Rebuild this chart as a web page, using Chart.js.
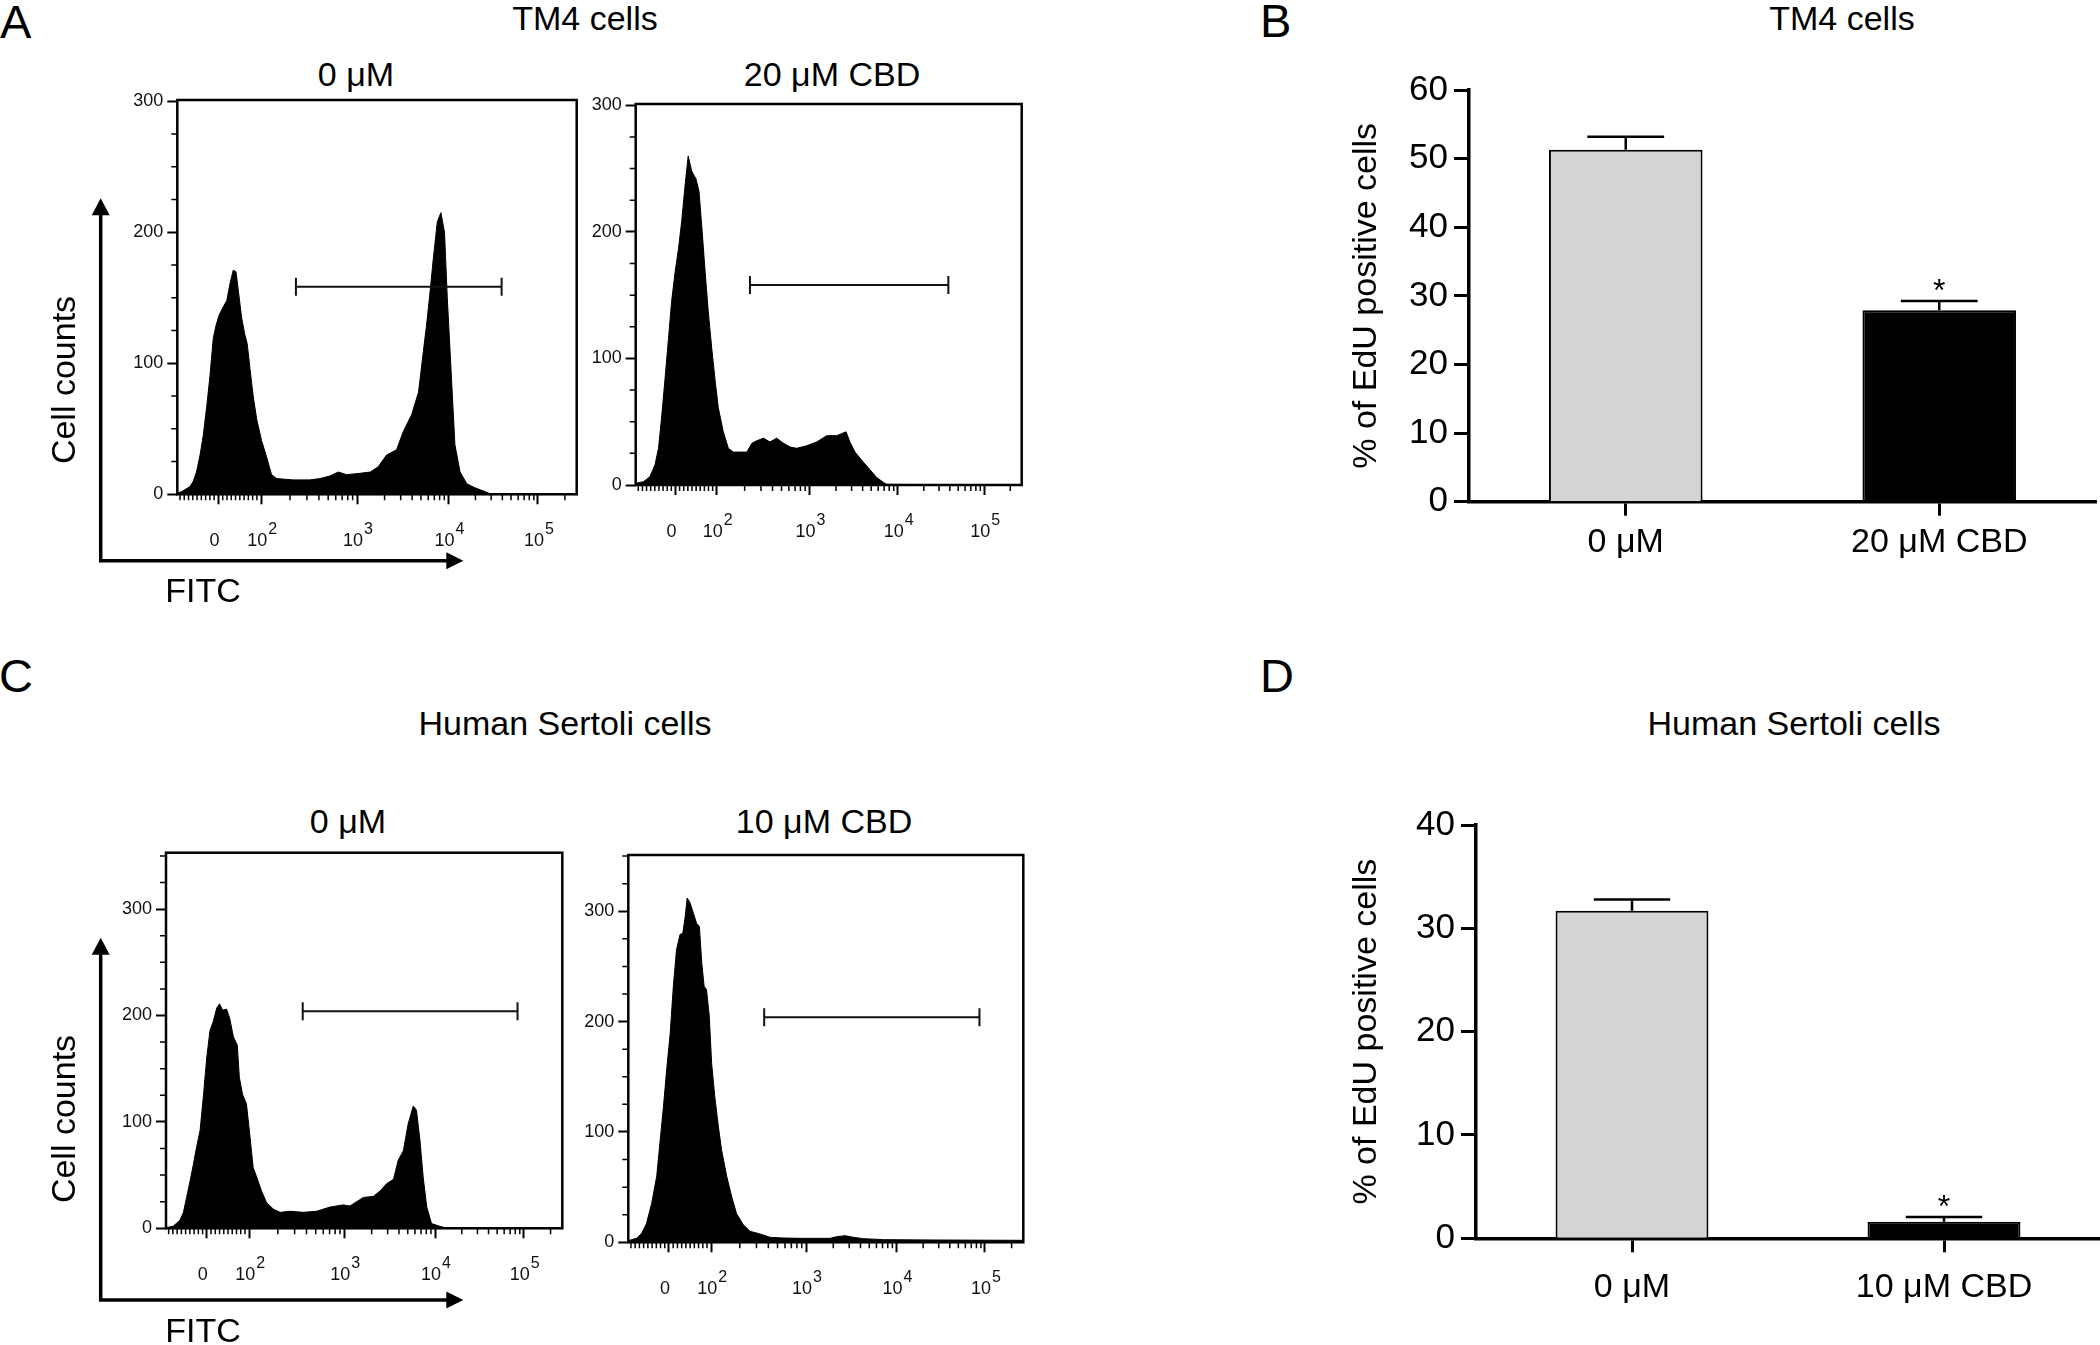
<!DOCTYPE html>
<html lang="en">
<head>
<meta charset="utf-8">
<title>EdU incorporation in TM4 and human Sertoli cells</title>
<script src="https://cdn.jsdelivr.net/npm/chart.js@4.4.1/dist/chart.umd.min.js"></script>
<style>
  html, body { margin: 0; padding: 0; background: #fff; }
  #fig { position: relative; width: 2100px; height: 1345px; overflow: hidden; background: #fff;
         font-family: "Liberation Sans", Arial, Helvetica, sans-serif; color: #000; }
  #fig canvas { position: absolute; }
  .t { position: absolute; transform: translate(-50%, -50%); line-height: 1; font-size: 34px; white-space: nowrap; }
  .p { position: absolute; transform: translateY(-50%); line-height: 1; font-size: 47px; }
</style>
</head>
<body>
<div id="fig">
  <div class="p" style="left:0px;top:21px">A</div>
  <div class="p" style="left:1260px;top:20px">B</div>
  <div class="p" style="left:-1px;top:675px">C</div>
  <div class="p" style="left:1260px;top:675px">D</div>

  <div class="t" style="left:585px;top:18px">TM4 cells</div>
  <div class="t" style="left:1842px;top:18px">TM4 cells</div>
  <div class="t" style="left:565px;top:723px">Human Sertoli cells</div>
  <div class="t" style="left:1794px;top:723px">Human Sertoli cells</div>

  <div class="t" style="left:356px;top:74px">0 μM</div>
  <div class="t" style="left:832px;top:74px">20 μM CBD</div>
  <div class="t" style="left:348px;top:821px">0 μM</div>
  <div class="t" style="left:824px;top:821px">10 μM CBD</div>

  <canvas id="histTm4Ctrl"></canvas>
  <canvas id="histTm4Cbd"></canvas>
  <canvas id="histHscCtrl"></canvas>
  <canvas id="histHscCbd"></canvas>
  <canvas id="barTm4"></canvas>
  <canvas id="barHsc"></canvas>
</div>

<script>
const FONT = '"Liberation Sans", Arial, Helvetica, sans-serif';
Chart.defaults.font.family = FONT;
Chart.defaults.color = '#000';

// FITC axis, display channel 0-1000 (biexponential display)
const fitcTickPos = [103, 210, 450, 679, 903];
const fitcTickBase = ['0', '10', '10', '10', '10'];
const fitcTickExp = ['', '2', '3', '4', '5'];
const countTicks = [0, 100, 200, 300];

// A - TM4 cells, 0 uM
const tm4CtrlChannel = [0, 11, 32, 40, 48, 57, 65, 74, 82, 90, 97, 105, 115, 124, 132, 140, 147, 153, 161, 169,
  175, 182, 190, 199, 211, 224, 236, 249, 290, 332, 357, 382, 403, 424, 457, 483, 503, 524, 549, 566,
  587, 604, 616, 624, 633, 641, 651, 660, 669, 676, 683, 690, 695, 708, 725, 745, 771, 783, 1000];
const tm4CtrlCount = [1, 2, 6, 10, 17, 30, 45, 68, 91, 119, 129, 137, 143, 148, 161, 171, 170, 155, 135, 122,
  115, 96, 75, 57, 41, 28, 15, 12, 11, 11, 12, 14, 17, 15, 16, 17, 21, 30, 34, 48,
  61, 78, 109, 129, 155, 180, 208, 215, 200, 150, 109, 68, 38, 17, 8, 5, 2, 0.5, 0];
const tm4CtrlGate = [297, 812];
const tm4CtrlGateY = 158.5;

// A - TM4 cells, 20 uM CBD
const tm4CbdChannel = [0, 20, 37, 50, 59, 67, 76, 85, 93, 102, 111, 119, 128, 136, 145, 156, 164, 171, 180, 188,
  197, 206, 214, 227, 240, 253, 270, 288, 301, 314, 331, 348, 365, 383, 400, 417, 443, 469, 495, 521,
  545, 555, 568, 590, 607, 624, 642, 650, 1000];
const tm4CbdCount = [1.3, 2.6, 6.6, 16, 29, 53, 84, 116, 145, 168, 187, 208, 237, 260, 248, 242, 232, 205, 168, 137,
  108, 82, 61, 42, 29, 26, 26, 26, 33, 35, 37, 34, 37, 33, 30, 29, 31, 34, 39, 39,
  42, 34, 26, 18, 12, 6, 2, 0.5, 0];
const tm4CbdGate = [296, 810];
const tm4CbdGateY = 158;

// C - human Sertoli cells, 0 uM
const hscCtrlChannel = [0, 18, 35, 44, 52, 61, 69, 77, 86, 94, 103, 111, 119, 128, 135, 143, 153, 161, 170, 180,
  185, 193, 203, 212, 220, 229, 241, 254, 271, 288, 313, 346, 380, 414, 447, 464, 498, 523, 540, 557,
  574, 586, 599, 611, 624, 632, 641, 649, 658, 670, 691, 704, 1000];
const hscCtrlCount = [0.6, 1.9, 7.5, 15, 29, 45, 60, 76, 92, 123, 161, 186, 194, 207, 211, 205, 206, 197, 180, 172,
  142, 126, 117, 86, 57, 48, 35, 24, 18, 15, 16, 15, 16, 20, 22, 21, 29, 30, 35, 42,
  46, 64, 73, 98, 115, 111, 82, 48, 20, 4.4, 1.9, 0.6, 0];
const hscCtrlGate = [345, 887];
const hscCtrlGateY = 204;

// C - human Sertoli cells, 10 uM CBD
const hscCbdChannel = [0, 21, 34, 46, 59, 72, 80, 89, 97, 106, 114, 122, 131, 138, 144, 149, 156, 165, 173, 180,
  186, 192, 198, 205, 211, 219, 228, 236, 249, 262, 274, 291, 308, 333, 359, 392, 435, 511, 527, 549,
  570, 595, 646, 772, 1000];
const hscCbdCount = [1.5, 3.6, 8.2, 17, 35, 60, 90, 123, 156, 189, 232, 265, 279, 280, 295, 312, 308, 298, 289, 286,
  253, 232, 229, 205, 162, 132, 105, 84, 60, 41, 26, 16, 10, 7.6, 4.5, 3.9, 3.6, 3.6, 5.1, 6.0,
  4.5, 3.3, 2.4, 2.1, 1.8];
const hscCbdGate = [344, 889];
const hscCbdGateY = 204;

// B / D - % of EdU positive cells (mean, SEM)
const tm4Groups = ['0 μM', '20 μM CBD'];
const tm4EdU = [51.3, 27.9];
const tm4EdUSem = [1.9, 1.35];
const tm4Sig = ['', '*'];
const hscGroups = ['0 μM', '10 μM CBD'];
const hscEdU = [31.7, 1.6];
const hscEdUSem = [1.1, 0.45];
const hscSig = ['', '*'];

// minor ticks: linear around 0, log decades above
function fitcMinorTicks() {
  const out = [];
  const zero = fitcTickPos[0], d2 = fitcTickPos[1];
  const step = (d2 - zero) / 10;
  for (let k = -9; k <= 9; k++) {
    const v = zero + k * step;
    if (k && v > 0 && v < d2) out.push(v);
  }
  for (let i = 1; i < fitcTickPos.length; i++) {
    const a = fitcTickPos[i];
    const b = i + 1 < fitcTickPos.length ? fitcTickPos[i + 1] : a + (a - fitcTickPos[i - 1]);
    for (let m = 2; m <= 9; m++) {
      const v = a + (b - a) * Math.log10(m);
      if (v < 1000) out.push(v);
    }
  }
  return out;
}
const fitcMinor = fitcMinorTicks();

function placeCanvas(id, f) {
  const c = document.getElementById(id);
  c.width = f.w;
  c.height = f.h;
  Object.assign(c.style, { left: f.x + 'px', top: f.y + 'px', width: f.w + 'px', height: f.h + 'px' });
  return c;
}

function drawAxisArrows(chart, g) {
  const ctx = chart.ctx;
  const ox = chart.canvas.offsetLeft, oy = chart.canvas.offsetTop;
  const x0 = g.x - ox, yTip = g.yTip - oy, yc = g.yCorner - oy, xTip = g.xTip - ox;
  ctx.fillStyle = '#000';
  ctx.strokeStyle = '#000';
  ctx.lineWidth = 3.5;
  ctx.beginPath();
  ctx.moveTo(x0, yTip + 12);
  ctx.lineTo(x0, yc);
  ctx.lineTo(xTip - 12, yc);
  ctx.stroke();
  ctx.beginPath();
  ctx.moveTo(x0, yTip); ctx.lineTo(x0 - 9, yTip + 17); ctx.lineTo(x0 + 9, yTip + 17);
  ctx.closePath(); ctx.fill();
  ctx.beginPath();
  ctx.moveTo(xTip, yc); ctx.lineTo(xTip - 17, yc - 8.5); ctx.lineTo(xTip - 17, yc + 8.5);
  ctx.closePath(); ctx.fill();
  ctx.font = '34px ' + FONT;
  ctx.textAlign = 'center';
  ctx.textBaseline = 'middle';
  ctx.fillText('FITC', g.fitc[0] - ox, g.fitc[1] - oy);
  ctx.save();
  ctx.translate(g.cells[0] - ox, g.cells[1] - oy);
  ctx.rotate(-Math.PI / 2);
  ctx.fillText('Cell counts', 0, 0);
  ctx.restore();
}

function histDecor(extra) {
  return {
    id: 'histDecor',
    afterDatasetsDraw(chart) {
      const { ctx, chartArea: a, scales: { x, y } } = chart;
      ctx.save();
      ctx.strokeStyle = '#000';
      ctx.lineWidth = 2.5;
      ctx.strokeRect(a.left, a.top, a.right - a.left, a.bottom - a.top);

      ctx.lineWidth = 1.5;
      ctx.beginPath();
      fitcMinor.forEach(v => {
        const px = x.getPixelForValue(v);
        ctx.moveTo(px, a.bottom); ctx.lineTo(px, a.bottom + 6);
      });
      for (let v = 25; v < y.max; v += 25) {
        if (v % 100 === 0) continue;
        const py = y.getPixelForValue(v);
        ctx.moveTo(a.left, py); ctx.lineTo(a.left - 6, py);
      }
      ctx.stroke();

      // FITC tick labels with raised exponent
      ctx.fillStyle = '#111';
      ctx.textBaseline = 'alphabetic';
      fitcTickPos.forEach((v, i) => {
        const px = x.getPixelForValue(v);
        ctx.font = '18px ' + FONT;
        if (!fitcTickExp[i]) {
          ctx.textAlign = 'center';
          ctx.fillText(fitcTickBase[i], px - 4, a.bottom + 52);
          return;
        }
        ctx.textAlign = 'right';
        ctx.fillText(fitcTickBase[i], px + 6, a.bottom + 52);
        ctx.font = '16px ' + FONT;
        ctx.textAlign = 'left';
        ctx.fillText(fitcTickExp[i], px + 7, a.bottom + 40);
      });

      if (extra.arrows) drawAxisArrows(chart, extra.arrows);
      ctx.restore();
    }
  };
}

function makeHistogram(id, frame, box, channel, count, ymax, gate, gateY, extra) {
  const canvas = placeCanvas(id, frame);
  return new Chart(canvas, {
    type: 'line',
    data: {
      datasets: [
        {
          label: 'gate',
          data: [{ x: gate[0], y: gateY }, { x: gate[1], y: gateY }],
          borderColor: '#111', borderWidth: 2, fill: false,
          pointStyle: 'line', rotation: 90, pointRadius: 9,
          pointBorderWidth: 2, pointBorderColor: '#111', pointBackgroundColor: '#111'
        },
        {
          label: 'FITC',
          data: channel.map((c, i) => ({ x: c, y: count[i] })),
          fill: 'origin', backgroundColor: '#000', borderColor: '#000',
          borderWidth: 1, pointRadius: 0, tension: 0
        }
      ]
    },
    options: {
      responsive: false,
      animation: false,
      events: [],
      layout: { padding: { left: 0, top: box.t - frame.y, right: frame.x + frame.w - box.r, bottom: 0 } },
      plugins: { legend: { display: false }, tooltip: { enabled: false } },
      scales: {
        x: {
          type: 'linear', min: 0, max: 1000,
          afterBuildTicks: s => { s.ticks = fitcTickPos.map(v => ({ value: v })); },
          afterFit: s => { s.height = frame.y + frame.h - box.b; },
          ticks: { display: false },
          grid: { drawOnChartArea: false, tickLength: 10, tickWidth: 2, tickColor: '#000' },
          border: { display: false }
        },
        y: {
          type: 'linear', min: 0, max: ymax,
          afterBuildTicks: s => { s.ticks = countTicks.map(v => ({ value: v })); },
          afterFit: s => { s.width = box.l - frame.x; },
          ticks: { font: { size: 18 }, color: '#111', padding: 4, callback: v => String(v) },
          grid: { drawOnChartArea: false, tickLength: 10, tickWidth: 2, tickColor: '#000' },
          border: { display: false }
        }
      }
    },
    plugins: [histDecor(extra || {})]
  });
}

function barDecor(mean, sem, sig) {
  return {
    id: 'barDecor',
    afterDatasetsDraw(chart) {
      const { ctx, scales: { y } } = chart;
      const bars = chart.getDatasetMeta(0).data;
      ctx.save();
      ctx.strokeStyle = '#000';
      ctx.fillStyle = '#000';
      ctx.lineWidth = 2.5;
      bars.forEach((bar, i) => {
        const top = y.getPixelForValue(mean[i]);
        const end = y.getPixelForValue(mean[i] + sem[i]);
        const half = bar.width * 0.25;
        ctx.beginPath();
        ctx.moveTo(bar.x, top); ctx.lineTo(bar.x, end);
        ctx.moveTo(bar.x - half, end); ctx.lineTo(bar.x + half, end);
        ctx.stroke();
        if (sig[i]) {
          ctx.font = '32px ' + FONT;
          ctx.textAlign = 'center';
          ctx.textBaseline = 'alphabetic';
          ctx.fillText(sig[i], bar.x, end);
        }
      });
      ctx.restore();
    }
  };
}

function makeBars(id, frame, box, groups, mean, sem, sig, ymax, labelPad) {
  const canvas = placeCanvas(id, frame);
  return new Chart(canvas, {
    type: 'bar',
    data: {
      labels: groups,
      datasets: [{
        data: mean,
        backgroundColor: ['#d4d4d4', '#000'],
        borderColor: '#000', borderWidth: 2,
        barPercentage: 0.49, categoryPercentage: 1
      }]
    },
    options: {
      responsive: false,
      animation: false,
      events: [],
      layout: { padding: { left: 0, top: box.t - frame.y, right: frame.x + frame.w - box.r, bottom: 0 } },
      plugins: { legend: { display: false }, tooltip: { enabled: false } },
      scales: {
        x: {
          grid: { drawOnChartArea: false, offset: false, tickLength: 14, tickWidth: 3, tickColor: '#000' },
          border: { width: 3.5, color: '#000' },
          ticks: { font: { size: 34 }, color: '#000', padding: labelPad, maxRotation: 0 },
          afterFit: s => { s.height = frame.y + frame.h - box.b; }
        },
        y: {
          min: 0, max: ymax,
          ticks: { stepSize: 10, font: { size: 35 }, color: '#000', padding: 6 },
          grid: { drawOnChartArea: false, tickLength: 15, tickWidth: 3, tickColor: '#000' },
          border: { width: 3.5, color: '#000' },
          title: { display: true, text: '% of EdU positive cells', font: { size: 34 }, color: '#000',
                   padding: { top: 26.6, bottom: 0 } },
          afterFit: s => { s.width = box.l - frame.x; }
        }
      }
    },
    plugins: [barDecor(mean, sem, sig)]
  });
}

makeHistogram('histTm4Ctrl', { x: 30, y: 80, w: 565, h: 540 }, { l: 177.3, t: 100, r: 576.7, b: 494.3 },
  tm4CtrlChannel, tm4CtrlCount, 301, tm4CtrlGate, tm4CtrlGateY,
  { arrows: { x: 100.7, yTip: 198.3, yCorner: 560.7, xTip: 463.3, cells: [65.5, 380], fitc: [203, 592.5] } });
makeHistogram('histTm4Cbd', { x: 570, y: 80, w: 465, h: 505 }, { l: 635.7, t: 104, r: 1021.7, b: 485 },
  tm4CbdChannel, tm4CbdCount, 301, tm4CbdGate, tm4CbdGateY);
makeHistogram('histHscCtrl', { x: 30, y: 830, w: 560, h: 515 }, { l: 166, t: 852.7, r: 562.3, b: 1228.3 },
  hscCtrlChannel, hscCtrlCount, 353, hscCtrlGate, hscCtrlGateY,
  { arrows: { x: 100.7, yTip: 937.7, yCorner: 1300, xTip: 463.3, cells: [66, 1119], fitc: [203, 1333] } });
makeHistogram('histHscCbd', { x: 570, y: 830, w: 465, h: 505 }, { l: 628.3, t: 855, r: 1023.3, b: 1242.3 },
  hscCbdChannel, hscCbdCount, 351, hscCbdGate, hscCbdGateY);

makeBars('barTm4', { x: 1320, y: 55, w: 780, h: 530 }, { l: 1469, t: 90, r: 2096, b: 501.7 },
  tm4Groups, tm4EdU, tm4EdUSem, tm4Sig, 60, 7);
makeBars('barHsc', { x: 1320, y: 790, w: 780, h: 550 }, { l: 1476, t: 825, r: 2100, b: 1238.3 },
  hscGroups, hscEdU, hscEdUSem, hscSig, 40, 15);
</script>
</body>
</html>
